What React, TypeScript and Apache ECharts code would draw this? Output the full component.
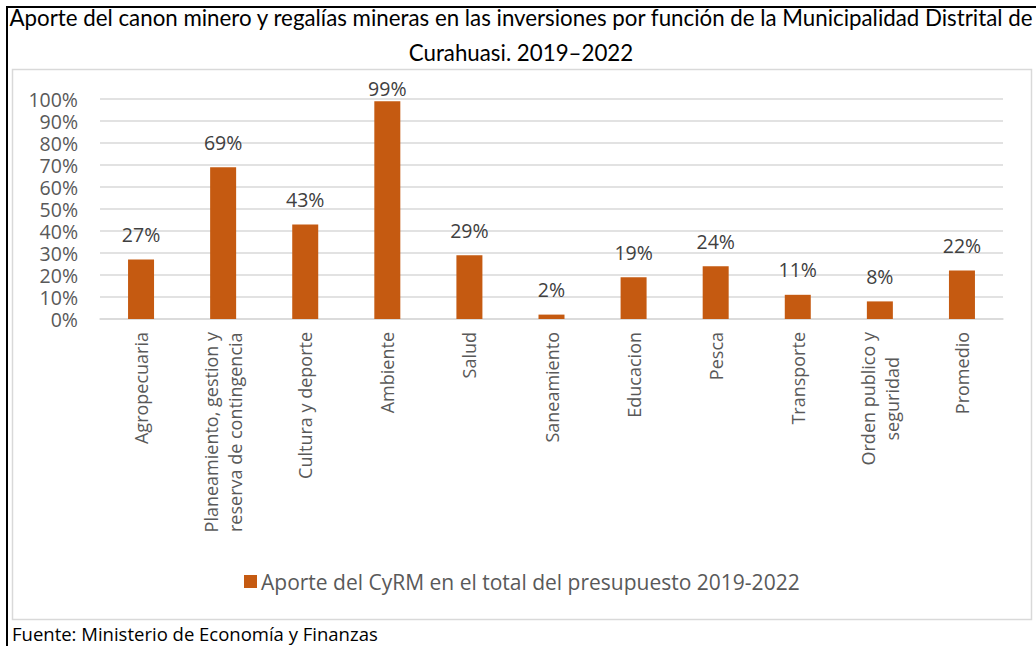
import React, { useEffect, useRef } from "react";
import * as echarts from "echarts";

const categories = [
  "Agropecuaria",
  "Planeamiento, gestion y\nreserva de contingencia",
  "Cultura y deporte",
  "Ambiente",
  "Salud",
  "Saneamiento",
  "Educacion",
  "Pesca",
  "Transporte",
  "Orden publico y\nseguridad",
  "Promedio",
];
const values = [27, 69, 43, 99, 29, 2, 19, 24, 11, 8, 22];
const seriesName = "Aporte del CyRM en el total del presupuesto 2019-2022";
const titleText =
  "Aporte del canon minero y regalías mineras en las inversiones por función de la Municipalidad Distrital de\nCurahuasi. 2019–2022";
const sourceText = "Fuente: Ministerio de Economía y Finanzas";

const FONT = "'Open Sans', sans-serif";

export default function App() {
  const ref = useRef<HTMLDivElement>(null);
  useEffect(() => {
    document.body.style.margin = "0";
    const chart = echarts.init(ref.current!, null, { renderer: "svg" });
    chart.setOption({
      animation: false,
      backgroundColor: "#ffffff",
      title: {
        text: titleText,
        left: 521,
        top: 0,
        padding: 0,
        textAlign: "center",
        textStyle: {
          fontFamily: "Lato, sans-serif",
          fontSize: 22.3,
          fontWeight: "normal",
          color: "#000000",
          lineHeight: 35,
        },
      },
      legend: {
        data: [seriesName],
        left: 239,
        top: 566,
        icon: "rect",
        itemWidth: 13,
        itemHeight: 13,
        itemGap: 5,
        textStyle: { fontFamily: FONT, fontSize: 21, color: "#595959", padding: [0, 0, 0, -1] },
      },
      grid: { left: 100, right: 33, top: 99, bottom: 327, containLabel: false },
      xAxis: {
        type: "category",
        data: categories,
        axisLine: { lineStyle: { color: "#d9d9d9", width: 1.5 } },
        axisTick: { show: false },
        axisLabel: {
          rotate: 90,
          margin: 13,
          interval: 0,
          fontFamily: FONT,
          fontSize: 18,
          color: "#595959",
          lineHeight: 24,
          formatter: (v: string) =>
            v
              .split("\n")
              .map((s) => "{c|" + s + "}")
              .join("\n"),
          rich: { c: { align: "center", fontFamily: FONT, fontSize: 18, color: "#595959", lineHeight: 24 } },
        },
      },
      yAxis: {
        type: "value",
        min: 0,
        max: 100,
        interval: 10,
        axisLine: { show: false },
        axisTick: { show: false },
        splitLine: { lineStyle: { color: "#d9d9d9", width: 1.5 } },
        axisLabel: {
          formatter: "{value}%",
          margin: 22,
          fontFamily: FONT,
          fontSize: 19.5,
          lineHeight: 18,
          color: "#595959",
        },
      },
      series: [
        {
          name: seriesName,
          type: "bar",
          data: values.map((v, i) => (i === 3 ? { value: v, label: { distance: 3 } } : v)),
          barWidth: 26,
          itemStyle: { color: "#c55a11" },
          label: {
            show: true,
            position: "top",
            distance: 15,
            formatter: "{c}%",
            fontFamily: FONT,
            fontSize: 19.5,
            color: "#404040",
          },
        },
      ],
      graphic: [
        {
          type: "rect",
          shape: { x: 12.5, y: 69.5, width: 1019, height: 550 },
          style: { fill: "none", stroke: "#d9d9d9", lineWidth: 1.5 },
          silent: true,
        },
        {
          type: "line",
          shape: { x1: 6, y1: 7, x2: 1036, y2: 7 },
          style: { stroke: "#000000", lineWidth: 2 },
          silent: true,
        },
        {
          type: "line",
          shape: { x1: 7, y1: 6, x2: 7, y2: 646 },
          style: { stroke: "#000000", lineWidth: 2 },
          silent: true,
        },
        {
          type: "text",
          left: 12,
          top: 624,
          style: {
            text: sourceText,
            fontFamily: FONT,
            fontSize: 18.5,
            fill: "#000000",
          },
          silent: true,
        },
      ],
    });
    return () => chart.dispose();
  }, []);
  return (
    <div
      ref={ref}
      style={{ position: "absolute", left: 0, top: 0, width: 1036, height: 646 }}
    />
  );
}
